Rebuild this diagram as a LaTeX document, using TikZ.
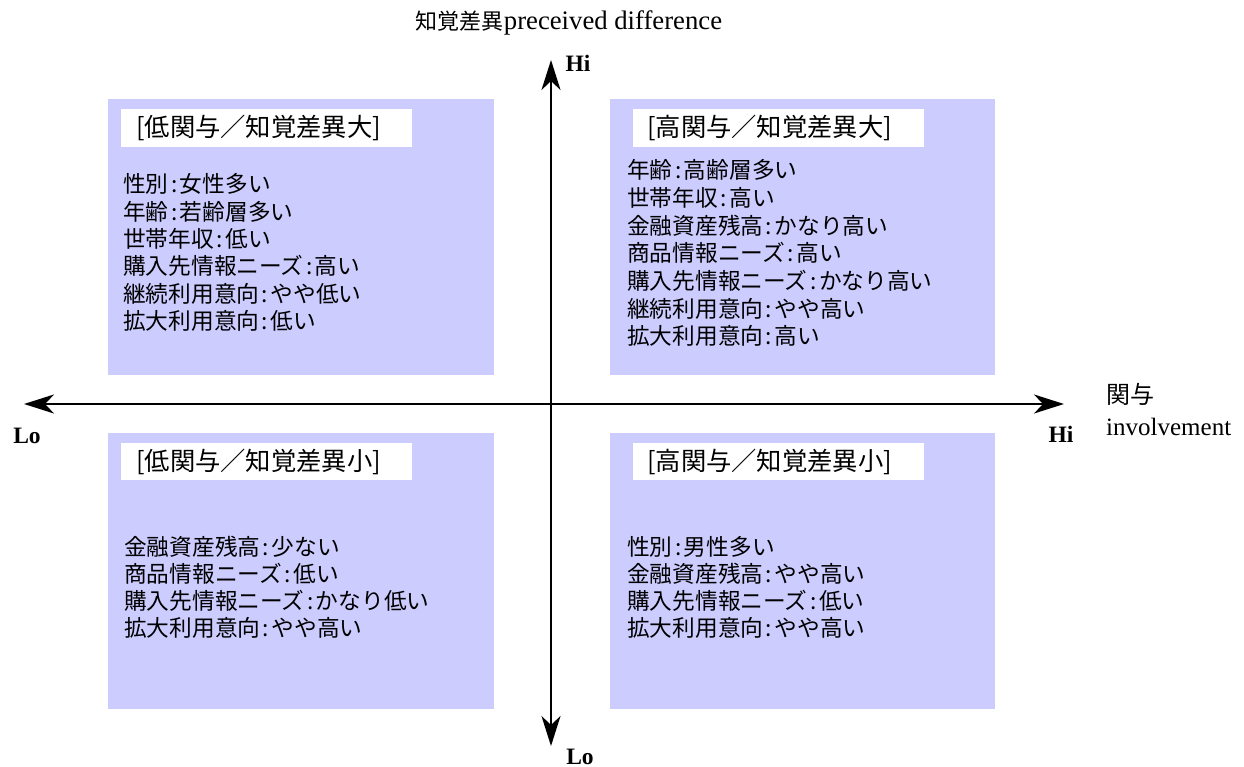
\documentclass[tikz,border=0pt]{standalone}
\usepackage{fontspec}
\setmainfont{Liberation Serif}
\newfontfamily\jp{Noto Sans CJK JP}
\usetikzlibrary{arrows.meta}
\definecolor{quad}{HTML}{CCCCFF}
\newcommand\cln{\makebox[0.5em]{:}}
\tikzset{
  quadbox/.style={fill=quad, draw=none},
  titlebox/.style={fill=white, draw=none},
  titletext/.style={anchor=west, inner sep=0pt, font=\jp\fontsize{25.3}{30}\selectfont},
  itemtext/.style={anchor=base west, inner sep=0pt, font=\jp\fontsize{22.7}{27}\selectfont},
  axis/.style={line width=2.4pt, -{Stealth[length=30pt,width=19pt,inset=9pt]}},
  hilo/.style={inner sep=0pt, font=\fontsize{23.5}{27}\selectfont\bfseries},
  axlabel/.style={inner sep=0pt},
}
\begin{document}
\begin{tikzpicture}[x=1pt,y=-1pt]
\useasboundingbox (0,0) rectangle (1244,767);
% quadrant boxes
\fill[quadbox] (108,99) rectangle (494,375);
\fill[quadbox] (610,99) rectangle (995,375);
\fill[quadbox] (108,433) rectangle (494,709);
\fill[quadbox] (610,433) rectangle (995,709);
% title boxes
\fill[titlebox] (121,109) rectangle (412,147);
\fill[titlebox] (633,109) rectangle (924,147);
\fill[titlebox] (121,443) rectangle (412,480);
\fill[titlebox] (633,443) rectangle (924,480);
\node[titletext] (t1) at (136,128) {[低関与／知覚差異大]};
\node[titletext] (t2) at (647,128) {[高関与／知覚差異大]};
\node[titletext] (t3) at (136,462) {[低関与／知覚差異小]};
\node[titletext] (t4) at (647,462) {[高関与／知覚差異小]};
% items
\foreach \t [count=\i] in {性別\cln 女性多い, 年齢\cln 若齢層多い, 世帯年収\cln 低い, 購入先情報ニーズ\cln 高い, 継続利用意向\cln やや低い, 拡大利用意向\cln 低い}
  \node[itemtext, name=tl\i] at (123,{193+(\i-1)*27.3}) {\t};
\foreach \t [count=\i] in {年齢\cln 高齢層多い, 世帯年収\cln 高い, 金融資産残高\cln かなり高い, 商品情報ニーズ\cln 高い, 購入先情報ニーズ\cln かなり高い, 継続利用意向\cln やや高い, 拡大利用意向\cln 高い}
  \node[itemtext, name=tr\i] at (627,{179+(\i-1)*27.6}) {\t};
\foreach \t [count=\i] in {金融資産残高\cln 少ない, 商品情報ニーズ\cln 低い, 購入先情報ニーズ\cln かなり低い, 拡大利用意向\cln やや高い}
  \node[itemtext, name=bl\i] at (124,{555+(\i-1)*27.3}) {\t};
\foreach \t [count=\i] in {性別\cln 男性多い, 金融資産残高\cln やや高い, 購入先情報ニーズ\cln 低い, 拡大利用意向\cln やや高い}
  \node[itemtext, name=br\i] at (627,{555+(\i-1)*27.3}) {\t};
% axes
\coordinate (o) at (551,404);
\coordinate (top) at (551,60);
\coordinate (bot) at (551,746);
\coordinate (lft) at (24,404);
\coordinate (rgt) at (1064,404);
\draw[axis] (o) -- (top);
\draw[axis] (o) -- (bot);
\draw[axis] (o) -- (lft);
\draw[axis] (o) -- (rgt);
\node[hilo] (hitop) at (578,63) {Hi};
\node[hilo, anchor=base] (lobot) at (580,764) {Lo};
\node[hilo] (lolft) at (27,436) {Lo};
\node[hilo] (hirgt) at (1061,434) {Hi};
\node[axlabel] (ylab) at (569,23) {{\jp\fontsize{22}{26}\selectfont 知覚差異}{\fontsize{26.7}{30}\selectfont preceived difference}};
\node[axlabel, anchor=west, font=\jp\fontsize{24}{28}\selectfont] (xlab1) at (1106,394) {関与};
\node[axlabel, anchor=west, font=\fontsize{25}{29}\selectfont] (xlab2) at (1106,427) {involvement};
\end{tikzpicture}
\end{document}
